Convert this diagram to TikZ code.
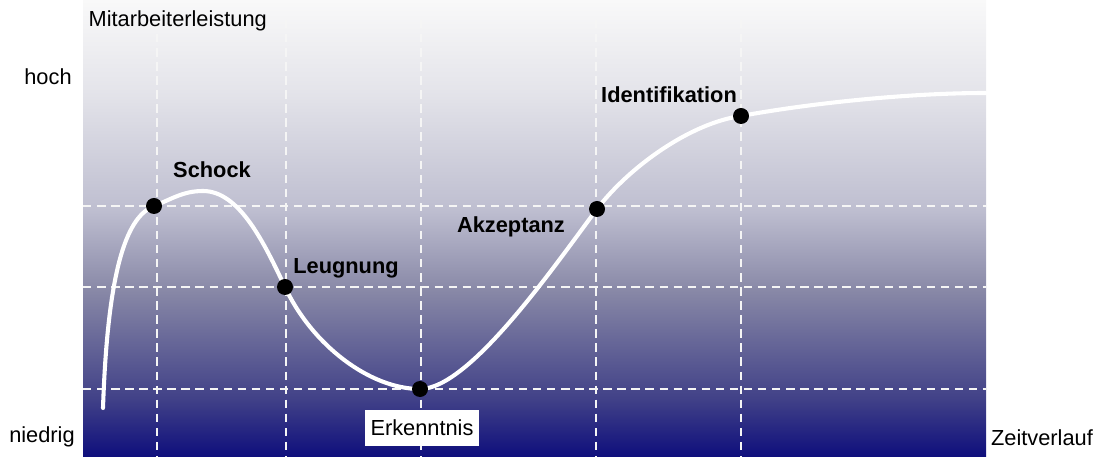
\documentclass[tikz,border=0pt]{standalone}
\usepackage{fontspec}
\setmainfont{Liberation Sans}
\usepackage{tikz}
\usetikzlibrary{positioning,calc}
\definecolor{bgtop}{RGB}{249,249,249}
\definecolor{bgq}{RGB}{228,228,234}
\definecolor{bgmid}{RGB}{190,190,208}
\definecolor{bglow}{RGB}{135,135,166}
\definecolor{bgdeep}{RGB}{66,66,136}
\definecolor{bgbot}{RGB}{14,14,124}
\pgfdeclareverticalshading{phasefade}{100bp}{color(0bp)=(bgbot); color(25bp)=(bgbot); color(31.5bp)=(bgdeep); color(43bp)=(bglow); color(52bp)=(bgmid); color(65bp)=(bgq); color(75bp)=(bgtop); color(100bp)=(bgtop)}
\tikzset{
  gline/.style={draw=white!92!gray, dash pattern=on 6pt off 4pt, line width=1.1pt},
  curve/.style={draw=white, line width=2.9pt, line cap=round},
  dot/.style={circle, fill=black, minimum size=0.4cm, inner sep=0pt},
  lab/.style={font=\fontsize{15.5}{18}\selectfont\bfseries, inner sep=1pt},
  axl/.style={font=\fontsize{15.5}{18}\selectfont, inner sep=1pt},
  tagbox/.style={fill=white, font=\fontsize{15.5}{18}\selectfont, minimum width=2.85cm, minimum height=0.92cm, inner sep=0pt},
}
\begin{document}
\begin{tikzpicture}[x=0.025cm,y=-0.025cm]
\useasboundingbox (0,0) rectangle (1096,457);
% background
\shade[shading=phasefade] (83,0) rectangle (986,457);
% grid
\foreach \gx in {157,286,421,596,741} \draw[gline] (\gx,20) -- (\gx,457);
\foreach \gy in {206,287,389} \draw[gline] (83,\gy) -- (986,\gy);
% curve
\coordinate (pO) at (103,408);
\coordinate (pS) at (154,206);
\coordinate (pP) at (203,191);
\coordinate (pL) at (285,287);
\coordinate (pE) at (420,389);
\coordinate (pA) at (597,209);
\coordinate (pI) at (741,116);
\coordinate (pZ) at (986,93);
\draw[curve] (pO) .. controls (108,260) and (129,216) .. (pS)
  .. controls (172,199) and (183,191) .. (pP)
  .. controls (240,191) and (265,245) .. (pL)
  .. controls (312,345) and (370,389) .. (pE)
  .. controls (470,389) and (555,265) .. (pA)
  .. controls (630,166) and (691,123) .. (pI)
  .. controls (800,105) and (900,93) .. (pZ);
\node[dot] (schock) at (pS) {};
\node[dot] (leug) at (pL) {};
\node[dot] (erk) at (pE) {};
\node[dot] (akz) at (pA) {};
\node[dot] (ident) at (pI) {};
% labels
\node[lab] (tschock) at (212,170) {Schock};
\node[lab] (tleug) at (346,268) {Leugnung};
\node[tagbox] (terk) at (422,428) {Erkenntnis};
\node[lab] (takz) at (511,227) {Akzeptanz};
\node[lab] (tident) at (669,95) {Identifikation};
\node[axl, anchor=west] (yname) at (87,21) {Mitarbeiterleistung};
\node[axl] (yhi) at (48,77) {hoch};
\node[axl] (ylo) at (42,437) {niedrig};
\node[axl] (xname) at (1042,438) {Zeitverlauf};
\end{tikzpicture}
\end{document}
